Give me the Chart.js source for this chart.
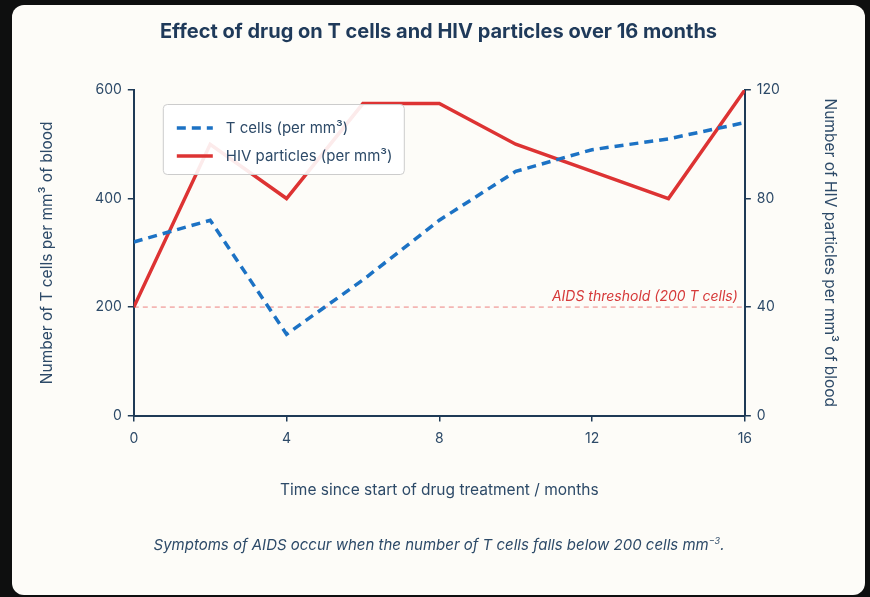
<!DOCTYPE html>
<html>
<head>
<meta charset="utf-8">
<script src="https://cdn.jsdelivr.net/npm/chart.js@4.4.1/dist/chart.umd.min.js"></script>
<style>
    html, body { margin: 0; padding: 0; background: #0e0f0f; }
    body { width: 870px; height: 597px; position: relative; overflow: hidden; font-family: Inter, "Noto Sans", sans-serif; }
    .card { position: absolute; left: 12px; top: 5px; width: 853px; height: 590px; background: #fdfcf8; border-radius: 12px; }
    #wrap { position: absolute; left: 0; top: 0; width: 870px; height: 597px; }
    .caption { position: absolute; left: 0; width: 878px; top: 535px; margin: 0; text-align: center; font-style: italic; font-size: 15px; color: #2d4a68; }
</style>
</head>
<body>
<div class="card"></div>
<div id="wrap"><canvas id="chart"></canvas></div>
<p class="caption">Symptoms of AIDS occur when the number of T cells falls below 200 cells mm<sup style="font-size:9px">−3</sup>.</p>
<script>
const months = [0, 2, 4, 6, 8, 10, 12, 14, 16];
const tCells = [320, 360, 150, 250, 360, 450, 490, 510, 540];
const hivParticles = [40, 100, 80, 115, 115, 100, 90, 80, 120];
const tCellTicks = [0, 200, 400, 600];
const hivTicks = [0, 40, 80, 120];
const aidsThreshold = 200;

const ink = "#1e3a56";
const labelInk = "#2d4a68";
const blue = "#1c72c4";
const red = "#dd3333";

//pairs of x and y for the linear x scale
const toPoints = (values) => months.map((m, i) => ({ x: m, y: values[i] }));

//dashed line for the AIDS threshold with its label
const thresholdLine = {
    id: "thresholdLine",
    beforeDatasetsDraw(chart) {
        const { ctx, chartArea, scales } = chart;
        const y = scales.y.getPixelForValue(aidsThreshold);
        ctx.save();
        ctx.strokeStyle = "rgba(232, 90, 90, 0.75)";
        ctx.lineWidth = 1;
        ctx.setLineDash([5, 4]);
        ctx.beginPath();
        ctx.moveTo(chartArea.left, y);
        ctx.lineTo(chartArea.right, y);
        ctx.stroke();
        ctx.setLineDash([]);
        ctx.fillStyle = "#d63a3a";
        ctx.font = "italic 14px Inter";
        ctx.textAlign = "right";
        ctx.textBaseline = "alphabetic";
        ctx.fillText("AIDS threshold (200 T cells)", chartArea.right - 7, y - 6);
        ctx.restore();
    },
};

//legend box drawn inside the plot area
const boxLegend = {
    id: "boxLegend",
    afterDatasetsDraw(chart) {
        const { ctx, chartArea } = chart;
        const x = chartArea.left + 29;
        const y = chartArea.top + 14;
        const w = 241, h = 70;
        ctx.save();
        ctx.fillStyle = "rgba(255, 255, 255, 0.9)";
        ctx.strokeStyle = "#cccccc";
        ctx.lineWidth = 1;
        ctx.beginPath();
        ctx.roundRect(x + 0.5, y + 0.5, w, h, 4);
        ctx.fill();
        ctx.stroke();
        chart.data.datasets.forEach((ds, i) => {
            const rowY = y + 24 + i * 28;
            ctx.strokeStyle = ds.borderColor;
            ctx.lineWidth = ds.borderWidth;
            ctx.setLineDash(ds.borderDash || []);
            ctx.beginPath();
            ctx.moveTo(x + 14, rowY);
            ctx.lineTo(x + 50, rowY);
            ctx.stroke();
            ctx.setLineDash([]);
            ctx.fillStyle = labelInk;
            ctx.font = "15px Inter";
            ctx.textAlign = "left";
            ctx.textBaseline = "middle";
            ctx.fillText(ds.label, x + 63, rowY);
        });
        ctx.restore();
    },
};

const tickFont = { family: "Inter", size: 14 };
const titleFont = { family: "Inter", size: 15.5 };

new Chart(document.getElementById("chart"), {
    type: "line",
    plugins: [thresholdLine, boxLegend],
    data: {
        datasets: [
            {
                label: "T cells (per mm³)",
                data: toPoints(tCells),
                borderColor: blue,
                borderWidth: 3.5,
                borderDash: [9, 6],
                pointRadius: 0,
                yAxisID: "y",
                fill: false,
            },
            {
                label: "HIV particles (per mm³)",
                data: toPoints(hivParticles),
                borderColor: red,
                borderWidth: 3.5,
                pointRadius: 0,
                yAxisID: "y1",
                fill: false,
            },
        ],
    },
    options: {
        responsive: true,
        maintainAspectRatio: false,
        animation: false,
        layout: { padding: { left: 34, right: 27, top: 0, bottom: 93 } },
        plugins: {
            legend: { display: false },
            tooltip: { enabled: false },
            title: {
                display: true,
                text: "Effect of drug on T cells and HIV particles over 16 months",
                color: "#1f3a5a",
                font: { family: "Inter", size: 20, weight: "bold" },
                padding: { top: 20, bottom: 46 },
            },
        },
        scales: {
            x: {
                type: "linear",
                min: 0,
                max: 16,
                ticks: { stepSize: 4, color: labelInk, font: tickFont, padding: 9 },
                grid: { drawOnChartArea: false, tickLength: 6, color: ink, lineWidth: 1.5 },
                border: { color: ink, width: 2 },
                title: {
                    display: true,
                    text: "Time since start of drug treatment / months",
                    color: labelInk,
                    font: titleFont,
                    padding: { top: 25, bottom: 4 },
                },
            },
            y: {
                position: "left",
                min: 0,
                max: 600,
                afterBuildTicks: (axis) => { axis.ticks = tCellTicks.map((v) => ({ value: v })); },
                ticks: { color: labelInk, font: tickFont, padding: 6 },
                grid: { drawOnChartArea: false, tickLength: 6, color: ink, lineWidth: 1.5 },
                border: { color: ink, width: 2 },
                title: {
                    display: true,
                    text: "Number of T cells per mm³ of blood",
                    color: labelInk,
                    font: titleFont,
                    padding: { top: 4, bottom: 32.5 },
                },
            },
            y1: {
                position: "right",
                min: 0,
                max: 120,
                afterBuildTicks: (axis) => { axis.ticks = hivTicks.map((v) => ({ value: v })); },
                ticks: { color: labelInk, font: tickFont, padding: 6 },
                grid: { drawOnChartArea: false, tickLength: 6, color: ink, lineWidth: 1.5 },
                border: { color: ink, width: 2 },
                title: {
                    display: true,
                    text: "Number of HIV particles per mm³ of blood",
                    color: labelInk,
                    font: titleFont,
                    padding: { top: 4, bottom: 34.5 },
                },
            },
        },
    },
});
</script>
</body>
</html>
